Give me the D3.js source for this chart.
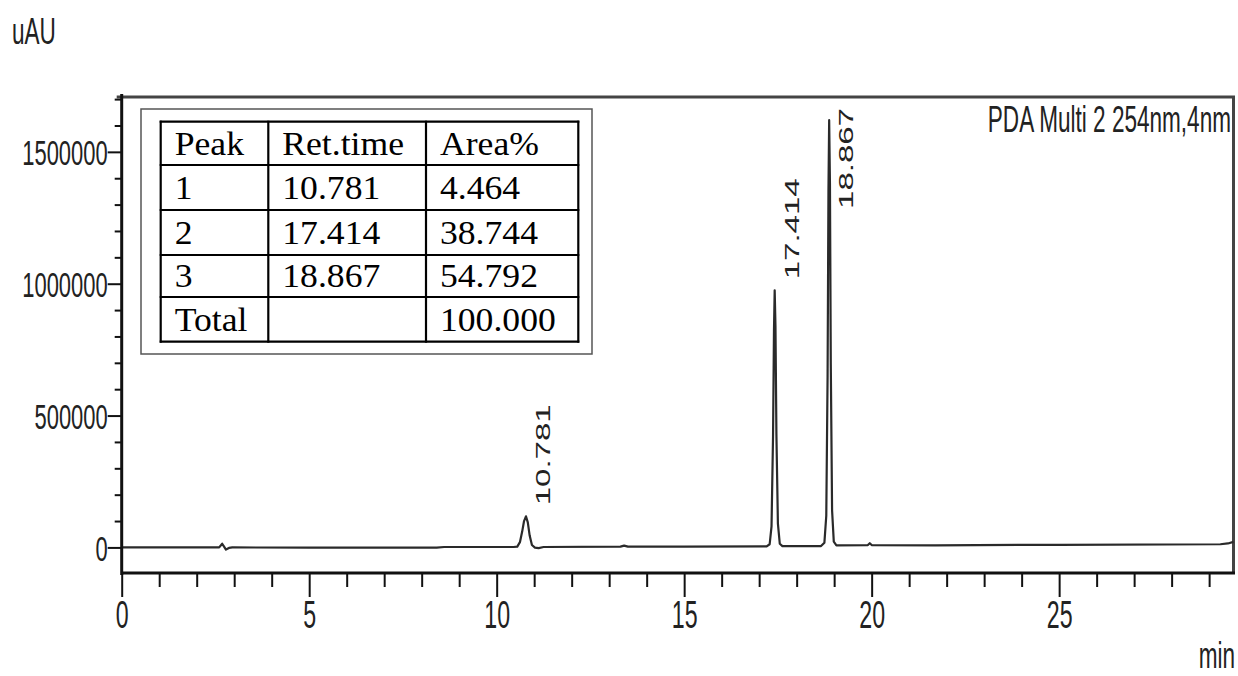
<!DOCTYPE html>
<html>
<head>
<meta charset="utf-8">
<script src="https://cdn.jsdelivr.net/npm/d3@7"></script>
<style>
  html, body { margin: 0; padding: 0; background: #fff; }
  svg { display: block; }
  .sans { font-family: "Liberation Sans", Arial, sans-serif; fill: #222; }
  .serif { font-family: "Liberation Serif", "Times New Roman", serif; fill: #000; }
</style>
</head>
<body>
<svg id="chart" width="1238" height="676"></svg>
<script>
// Chromatogram trace: retention time (min) and detector response (uAU)
const times = [
  0, 1.5, 2.6, 2.68, 2.73, 2.78, 2.86, 2.95, 5, 8.4, 8.6, 10.45, 10.55, 10.62, 10.68,
  10.73, 10.781, 10.83, 10.88, 10.94, 11.02, 11.12, 11.25, 13.3, 13.4, 13.5, 15, 17.2,
  17.28, 17.33, 17.37, 17.395, 17.414, 17.435, 17.46, 17.5, 17.55, 17.62, 18.65,
  18.74, 18.79, 18.825, 18.848, 18.867, 18.888, 18.91, 18.945, 18.99, 19.06, 19.9,
  19.95, 20.0, 21.7, 25, 29.3, 29.5, 29.65
];
const signal = [
  0, 0, 0, 14000, 3000, -8000, -2000, 0, -1000, -1000, 1500, 1500, 3000, 20000, 60000,
  100000, 118000, 95000, 45000, 9000, -1000, -2500, 1500, 3000, 7000, 3000, 3000, 4000,
  12000, 80000, 420000, 820000, 975000, 840000, 430000, 90000, 14000, 5000, 5000,
  18000, 120000, 650000, 1350000, 1620000, 1380000, 700000, 140000, 22000, 8000, 9000,
  16000, 9000, 8000, 10000, 12000, 15000, 21000
];

// Integrated peaks shown on the trace and in the results table
const peakTimes = [10.781, 17.414, 18.867];
const peakLabels = ["10.781", "17.414", "18.867"];

const tableHeader = ["Peak", "Ret.time", "Area%"];
const peakIds = ["1", "2", "3", "Total"];
const retTimes = ["10.781", "17.414", "18.867", ""];
const areaPercent = ["4.464", "38.744", "54.792", "100.000"];

// Axis ticks
const xMajorTicks = [0, 5, 10, 15, 20, 25];
const xMinorTicks = d3.range(0, 30, 1).filter(t => t % 5 !== 0);
const yMajorTicks = [0, 500000, 1000000, 1500000];
const yMinorTicks = d3.range(100000, 1700001, 100000).filter(v => v % 500000 !== 0);

const svg = d3.select("#chart");
const plot = { left: 121.7, right: 1233.5, top: 97, bottom: 573 };
const SQUEEZE = 0.61; // narrow instrument-report lettering

const x = d3.scaleLinear().domain([0, 29.65]).range([plot.left, plot.right]);
const y = d3.scaleLinear().domain([-97000, 1708000]).range([plot.bottom, plot.top]);

// Frame (top and right edges)
svg.append("path")
  .attr("d", `M${plot.left - 5},${plot.top}H${plot.right}V${plot.bottom}`)
  .attr("fill", "none").attr("stroke", "#444").attr("stroke-width", 3);

// Trace
const line = d3.line().x((d, i) => x(times[i])).y(d => y(d));
svg.append("path")
  .datum(signal)
  .attr("d", line)
  .attr("fill", "none")
  .attr("stroke", "#2a2a2a")
  .attr("stroke-width", 2.2)
  .attr("stroke-linejoin", "round");

// Axes
function styleAxis(g) {
  g.select(".domain").remove();
  g.selectAll(".tick line").attr("stroke", "#111").attr("stroke-width", 2);
}

const yMinor = svg.append("g").attr("transform", `translate(${plot.left},0)`)
  .call(d3.axisLeft(y).tickValues(yMinorTicks).tickSize(7).tickFormat(""));
styleAxis(yMinor);
const yMajor = svg.append("g").attr("transform", `translate(${plot.left},0)`)
  .call(d3.axisLeft(y).tickValues(yMajorTicks).tickSize(14).tickFormat(d3.format("d")));
styleAxis(yMajor);
yMajor.selectAll(".tick text")
  .attr("class", "sans")
  .attr("x", null).attr("dy", null)
  .attr("font-size", 36)
  .attr("text-anchor", "end")
  .attr("dominant-baseline", "central")
  .attr("transform", `translate(-14,0) scale(${SQUEEZE},1)`);

const xMinor = svg.append("g").attr("transform", `translate(0,${plot.bottom})`)
  .call(d3.axisBottom(x).tickValues(xMinorTicks).tickSize(14).tickFormat(""));
styleAxis(xMinor);
const xMajor = svg.append("g").attr("transform", `translate(0,${plot.bottom})`)
  .call(d3.axisBottom(x).tickValues(xMajorTicks).tickSize(24).tickFormat(d3.format("d")));
styleAxis(xMajor);
xMajor.selectAll(".tick text")
  .attr("class", "sans")
  .attr("y", null).attr("dy", null)
  .attr("font-size", 38)
  .attr("text-anchor", "middle")
  .attr("transform", `translate(0,55) scale(${SQUEEZE},1)`);

// Axis lines
svg.append("line")
  .attr("x1", plot.left).attr("x2", plot.left)
  .attr("y1", plot.top - 3).attr("y2", plot.bottom + 2)
  .attr("stroke", "#111").attr("stroke-width", 3);
svg.append("line")
  .attr("x1", plot.left).attr("x2", plot.right + 1.5)
  .attr("y1", plot.bottom).attr("y2", plot.bottom)
  .attr("stroke", "#111").attr("stroke-width", 3);

// Axis units and channel caption
function squeezedText(txt, px, py, size, anchor) {
  return svg.append("text").attr("class", "sans")
    .attr("font-size", size).attr("text-anchor", anchor)
    .attr("transform", `translate(${px},${py}) scale(${SQUEEZE},1)`)
    .text(txt);
}
squeezedText("uAU", 12, 44, 37, "start");
squeezedText("min", 1235, 668, 37, "end");
squeezedText("PDA Multi 2 254nm,4nm", 1231, 132, 37, "end");

// Retention-time labels beside each peak apex
peakTimes.forEach((t, i) => {
  const h = signal[times.indexOf(t)];
  const label = svg.append("text").attr("class", "sans")
    .attr("font-size", 33).attr("text-anchor", "start")
    .text(peakLabels[i]);
  const len = label.node().getComputedTextLength();
  let bottom = y(h) - 11;
  if (bottom - len < plot.top + 11) bottom = plot.top + 11 + len;
  label.attr("transform", `translate(${x(t) + 24},${bottom}) scale(0.62,1) rotate(-90)`);
});

// Results table
const box = { x: 141, y: 109, w: 451, h: 245 };
svg.append("rect")
  .attr("x", box.x).attr("y", box.y).attr("width", box.w).attr("height", box.h)
  .attr("fill", "#fff").attr("stroke", "#555").attr("stroke-width", 1.5);

const colEdges = [160.7, 268.3, 426, 578.3];
const rowEdges = [121.7, 165, 210, 255, 297, 341.7];
const rows = [tableHeader].concat(peakIds.map((id, i) => [id, retTimes[i], areaPercent[i]]));

const tbl = svg.append("g");
rowEdges.forEach(ry => tbl.append("line")
  .attr("x1", colEdges[0] - 1).attr("x2", colEdges[3] + 1)
  .attr("y1", ry).attr("y2", ry)
  .attr("stroke", "#000").attr("stroke-width", 2.2));
colEdges.forEach(cx => tbl.append("line")
  .attr("x1", cx).attr("x2", cx)
  .attr("y1", rowEdges[0] - 1).attr("y2", rowEdges[5] + 1)
  .attr("stroke", "#000").attr("stroke-width", 2.2));

rows.forEach((r, ri) => {
  const top = rowEdges[ri], bot = rowEdges[ri + 1];
  r.forEach((cell, ci) => {
    if (!cell) return;
    tbl.append("text").attr("class", "serif")
      .attr("font-size", 33)
      .attr("transform", `translate(${colEdges[ci] + 14},${bot - (bot - top) * 0.24}) scale(1.08,1)`)
      .text(cell);
  });
});
</script>
</body>
</html>
